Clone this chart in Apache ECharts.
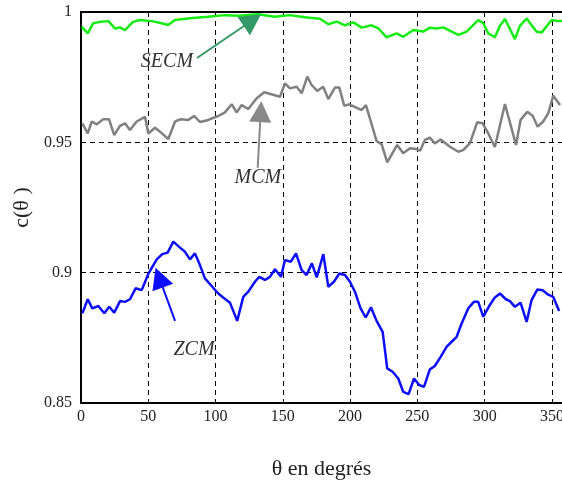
<!DOCTYPE html>
<html>
<head>
<meta charset="utf-8">
<title>c(theta)</title>
<script src="https://cdn.jsdelivr.net/npm/echarts@6/dist/echarts.min.js"></script>
<style>
  html, body { margin: 0; padding: 0; background: #fff; }
  #main { width: 562px; height: 489px; }
</style>
</head>
<body>
<div id="main"></div>
<script>
// angles (degrés) et valeurs
var secmTheta = [0.5, 5, 9.1, 15, 20.3, 25.3, 29, 32.7, 38.6, 43.8, 52.5, 60, 64.7, 69.9, 81, 94.4, 107, 118, 131.5, 144, 155, 166.5,
  170, 177.6, 183.8, 190, 196.2, 202.4, 208.6, 216, 221, 227.2, 234.6, 239.5, 247, 254.4, 259.3, 264.3, 269.2, 280.4, 286.6,
  295.2, 299, 302.7, 307.6, 311.4, 315.1, 322.5, 326.2, 331.2, 338.6, 342.3, 349.8, 354.7, 358];
var secmVals = [0.9944, 0.9918, 0.9957, 0.9963, 0.9965, 0.9937, 0.9941, 0.993, 0.9962, 0.9969, 0.9965, 0.9957, 0.995, 0.9969, 0.9976, 0.9982, 0.9988, 0.9986, 0.9991, 0.9982, 0.9988, 0.998,
  0.9978, 0.9974, 0.9953, 0.9963, 0.9949, 0.996, 0.994, 0.9949, 0.9937, 0.9903, 0.9918, 0.9905, 0.9931, 0.9925, 0.994, 0.9937, 0.9941, 0.9912, 0.9925,
  0.9969, 0.9957, 0.9918, 0.9903, 0.9947, 0.9973, 0.9896, 0.9947, 0.9975, 0.9924, 0.9921, 0.9969, 0.9965, 0.9965];

var mcmTheta = [1, 5, 8, 11.7, 16.6, 20.8, 24.7, 29, 32.7, 36.4, 41.4, 47.6, 50, 55, 58.7, 64.9, 69.9, 74.3, 79.7, 84.2, 88.4, 94.6,
  102, 107, 112, 115.7, 119.4, 124.3, 130.6, 136.2, 147.9, 151.6, 155.3, 160.3, 164, 168.2, 171.4, 175.6, 180, 183.8, 188.7,
  192, 195.7, 199.4, 208.6, 211.8, 219.7, 223.5, 227.6, 235, 239.5, 244.5, 249, 252, 255.6, 259.3, 263, 267.3, 274.2, 280.4,
  284, 289, 294.5, 298.5, 302.7, 307.6, 315.1, 323.3, 326.7, 331.7, 335.7, 339.4, 343.5, 347.3, 351, 356];
var mcmVals = [0.9573, 0.9534, 0.958, 0.9569, 0.9589, 0.9589, 0.9528, 0.9563, 0.9573, 0.9547, 0.958, 0.9598, 0.9534, 0.9556, 0.9541, 0.9513, 0.958, 0.9589, 0.9586, 0.9601, 0.9578, 0.9586,
  0.9601, 0.9615, 0.9646, 0.9615, 0.9643, 0.9628, 0.9669, 0.9692, 0.9675, 0.9726, 0.9707, 0.9713, 0.9688, 0.9752, 0.972, 0.9697, 0.9713, 0.9666, 0.971,
  0.971, 0.964, 0.9646, 0.9624, 0.9643, 0.9505, 0.9492, 0.9423, 0.949, 0.9458, 0.9477, 0.9474, 0.9468, 0.9509, 0.9518, 0.9496, 0.9511, 0.9483, 0.9464,
  0.947, 0.9496, 0.9577, 0.9573, 0.9534, 0.9482, 0.9647, 0.949, 0.9586, 0.9617, 0.9602, 0.956, 0.958, 0.9611, 0.9679, 0.9643];

var zcmTheta = [1, 5, 8.4, 12.9, 17.3, 21, 24.7, 29, 32.7, 36.4, 40.6, 45.1, 50, 56.3, 60.4, 64.4, 68.6, 73.6, 77.3, 81, 84.7, 88.4,
  92.1, 97.1, 102, 105.7, 110.7, 116.1, 120.6, 124.3, 129.3, 132.5, 136.7, 140.4, 144.2, 148.6, 151.6, 156, 159.8, 164, 167.7,
  171.6, 175.2, 180.1, 183.8, 188, 192, 196.2, 199.9, 203.6, 207.8, 211.6, 215.5, 219.7, 224.2, 227.6, 231.6, 235.8, 239.5,
  243.5, 247.5, 251.4, 254.9, 259.3, 263, 267.3, 271.8, 275.5, 279.2, 282.9, 287.8, 292, 295.2, 299, 303.4, 307.6, 311.4,
  315.8, 318.8, 322.5, 326.7, 331.2, 334.9, 339.1, 343.1, 346.5, 351, 355.4];
var zcmVals = [0.8844, 0.8898, 0.8863, 0.8872, 0.8844, 0.8869, 0.8846, 0.8891, 0.8888, 0.8898, 0.894, 0.8933, 0.8995, 0.9051, 0.9071, 0.9077, 0.9119, 0.9096, 0.908, 0.9051, 0.9074, 0.9029,
  0.8978, 0.8949, 0.892, 0.8905, 0.8885, 0.8815, 0.8907, 0.8927, 0.8965, 0.8984, 0.8972, 0.8984, 0.9013, 0.8984, 0.9048, 0.9042, 0.9074, 0.901, 0.8991,
  0.9036, 0.8982, 0.9071, 0.8946, 0.8965, 0.8997, 0.8991, 0.8965, 0.8927, 0.8863, 0.8828, 0.8867, 0.8815, 0.8773, 0.8633, 0.862, 0.8594, 0.8543,
  0.8534, 0.8594, 0.8569, 0.8562, 0.8629, 0.8642, 0.8677, 0.8716, 0.8735, 0.8754, 0.8805, 0.8863, 0.8888, 0.8888, 0.8831, 0.8872, 0.8905, 0.892,
  0.8898, 0.8891, 0.8869, 0.8885, 0.8811, 0.8895, 0.8935, 0.8933, 0.8918, 0.8907, 0.8853];

var names = ['SECM', 'MCM', 'ZCM'];
var colors = ['#14ec14', '#808080', '#0d0dff'];
var arrowColors = ['#339966', '#888888', '#0d0dff'];

/**
 * assemble [theta, valeur]
 */
function toPairs(xs, ys) {
  return xs.map(function (x, i) { return [x, ys[i]]; });
}

/**
 * flèche d'annotation + texte, en coordonnées des données
 */
function annotation(idx, from, to, textAt) {
  return {
    markLine: {
      silent: true,
      symbol: ['none', 'triangle'],
      symbolSize: [22, 21],
      label: {show: false},
      lineStyle: {color: arrowColors[idx], width: 2, type: 'solid'},
      data: [[{coord: from}, {coord: to}]]
    },
    markPoint: {
      silent: true,
      symbol: 'circle',
      symbolSize: 1,
      itemStyle: {color: 'rgba(0,0,0,0)'},
      label: {
        show: true, position: 'inside', formatter: names[idx],
        fontFamily: 'Liberation Serif', fontStyle: 'italic', fontSize: 20, color: '#333'
      },
      data: [{coord: textAt}]
    }
  };
}

var series = [
  toPairs(secmTheta, secmVals),
  toPairs(mcmTheta, mcmVals),
  toPairs(zcmTheta, zcmVals)
].map(function (d, i) {
  return {
    name: names[i], type: 'line', data: d, showSymbol: false, symbol: 'none',
    lineStyle: {color: colors[i], width: 2.5}, z: 3
  };
});

Object.assign(series[0], annotation(0, [86.2, 0.98235], [127.4, 0.99685], [63.9, 0.9808]));
Object.assign(series[1], annotation(1, [131.3, 0.94025], [133.6, 0.96174], [131.5, 0.9363]));
Object.assign(series[2], annotation(2, [69.9, 0.88154], [58.1, 0.89812], [84, 0.8703]));

var gridLine = {show: true, lineStyle: {color: '#000', width: 1, type: [5, 4]}};
var labelFont = {fontFamily: 'Liberation Serif', fontSize: 16, color: '#222'};
var nameFont = {fontFamily: 'Liberation Serif', fontSize: 22, color: '#222'};

var chart = echarts.init(document.getElementById('main'));
chart.setOption({
  animation: false,
  backgroundColor: '#fff',
  // la figure d'origine est coupée à droite : la zone va jusqu'au bord
  grid: {left: 81, top: 12, right: 0, bottom: 86, containLabel: false, outerBoundsMode: 'none'},
  xAxis: [{
    type: 'value', min: 0, max: 357.5, interval: 50,
    name: 'θ en degrés', nameLocation: 'middle', nameGap: 55, nameTextStyle: nameFont,
    axisLine: {show: true, lineStyle: {color: '#000', width: 2}},
    axisTick: {show: false},
    axisLabel: Object.assign({showMaxLabel: false, margin: 6}, labelFont),
    splitLine: gridLine
  }, {
    // bord supérieur
    type: 'value', position: 'top', min: 0, max: 357.5,
    axisLine: {show: true, lineStyle: {color: '#000', width: 2}},
    axisTick: {show: false}, axisLabel: {show: false}, splitLine: {show: false}
  }],
  yAxis: {
    type: 'value', min: 0.85, max: 1, interval: 0.05,
    name: 'c(θ )', nameLocation: 'middle', nameGap: 45, nameRotate: 90, nameTextStyle: nameFont,
    axisLine: {show: true, lineStyle: {color: '#000', width: 2}},
    axisTick: {show: false},
    axisLabel: Object.assign({margin: 9}, labelFont),
    splitLine: gridLine
  },
  series: series
});
</script>
</body>
</html>
